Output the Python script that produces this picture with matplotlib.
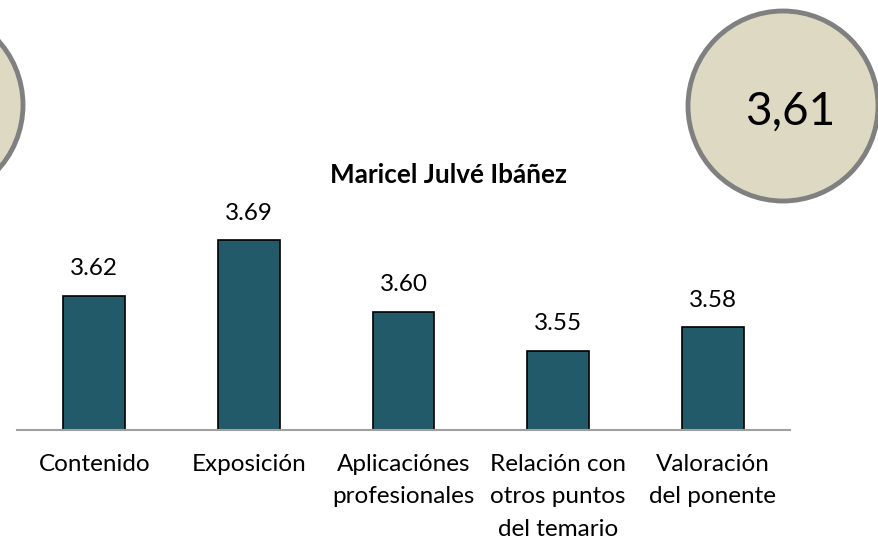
import matplotlib
matplotlib.use("Agg")
import matplotlib.pyplot as plt
from matplotlib.patches import Circle

categories = ["Contenido", "Exposición", "Aplicaciónes\nprofesionales",
              "Relación con\notros puntos\ndel temario", "Valoración\ndel ponente"]
values = [3.62, 3.69, 3.60, 3.55, 3.58]
title = "Maricel Julvé Ibáñez"
overall = "3,61"

plt.rcParams['font.family'] = ['Lato', 'DejaVu Sans']

W, H = 879, 542
fig = plt.figure(figsize=(W / 100, H / 100), dpi=100)

# background layer for circles (pixel coordinates)
bg = fig.add_axes([0, 0, 1, 1])
bg.set_xlim(0, W)
bg.set_ylim(H, 0)
bg.axis("off")
for cx, cy, r in [(-73, 105, 96), (783, 106, 95)]:
    bg.add_patch(Circle((cx, cy), r, facecolor="#DDD9C3", edgecolor="#808080",
                        linewidth=3.5, clip_on=False))
bg.text(790, 112, overall, fontsize=33, ha="center", va="center", color="black")

left, right = 17 / W, 790 / W
bottom, top = 1 - 430 / H, 1 - 193 / H
ax = fig.add_axes([left, bottom, right - left, top - bottom])
ax.patch.set_alpha(0)
x = range(len(values))
bars = ax.bar(x, values, width=0.4, color="#235A6A", edgecolor="black", linewidth=1.2)
ax.set_xlim(-0.5, 4.5)
ax.set_ylim(3.45, 3.75)
for s in ["top", "right", "left"]:
    ax.spines[s].set_visible(False)
ax.spines["bottom"].set_color("#A0A0A0")
ax.spines["bottom"].set_linewidth(1.5)
ax.set_yticks([])
ax.set_xticks(list(x))
ax.set_xticklabels(categories, fontsize=17.5, linespacing=1.68, va="top")
ax.tick_params(axis="x", length=0, pad=17)
for xi, v in zip(x, values):
    ax.annotate(f"{v:.2f}", (xi, v), xytext=(0, 19.5), textcoords="offset points",
                ha="center", va="center", fontsize=17.5)

fig.text(448 / W, 1 - 175 / H, title, fontsize=18.8, fontweight="bold",
         ha="center", va="center")

fig.savefig("out.png", dpi=100)
